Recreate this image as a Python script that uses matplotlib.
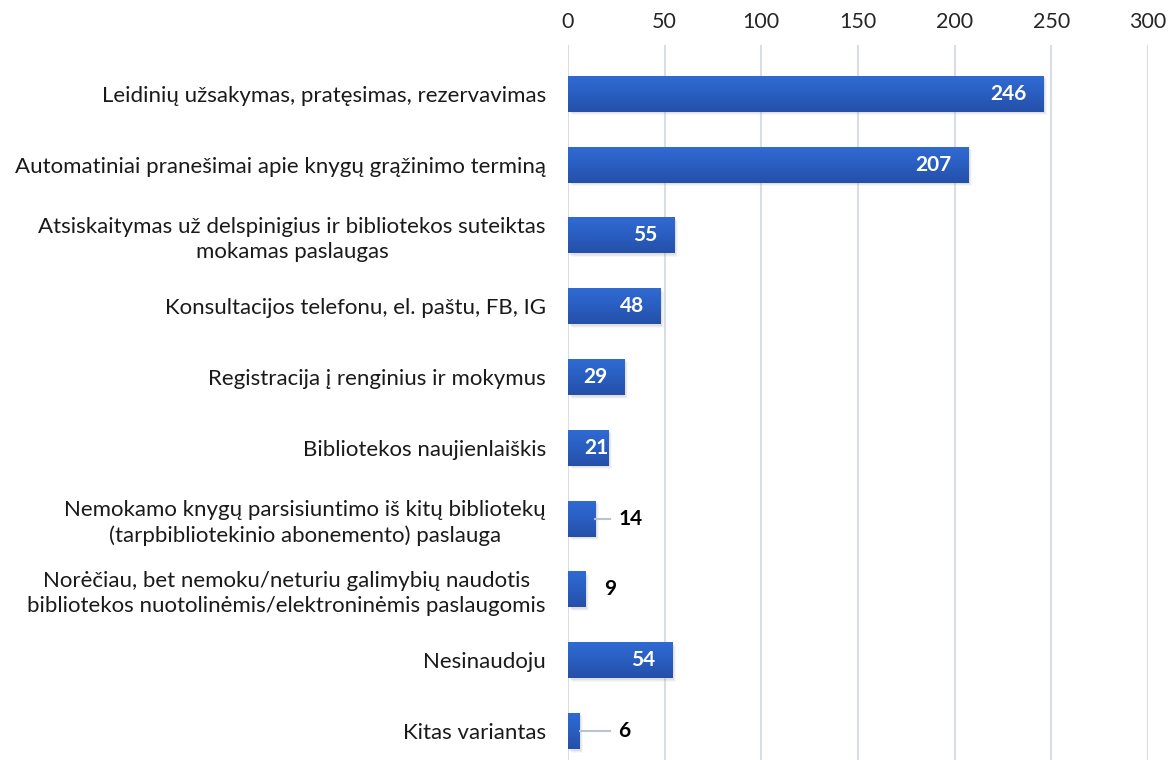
import matplotlib
matplotlib.use("Agg")
import matplotlib.pyplot as plt
import matplotlib.transforms as mtransforms
from matplotlib.colors import LinearSegmentedColormap
import numpy as np

categories = [
    "Leidinių užsakymas, pratęsimas, rezervavimas",
    "Automatiniai pranešimai apie knygų grąžinimo terminą",
    "Atsiskaitymas už delspinigius ir bibliotekos suteiktas\nmokamas paslaugas",
    "Konsultacijos telefonu, el. paštu, FB, IG",
    "Registracija į renginius ir mokymus",
    "Bibliotekos naujienlaiškis",
    "Nemokamo knygų parsisiuntimo iš kitų bibliotekų\n(tarpbibliotekinio abonemento) paslauga",
    "Norėčiau, bet nemoku/neturiu galimybių naudotis\nbibliotekos nuotolinėmis/elektroninėmis paslaugomis",
    "Nesinaudoju",
    "Kitas variantas",
]
values = [246, 207, 55, 48, 29, 21, 14, 9, 54, 6]
xticks = [0, 50, 100, 150, 200, 250, 300]

plt.rcParams['font.family'] = ['Lato', 'DejaVu Sans']

fig = plt.figure(figsize=(11.75, 7.6), dpi=100)
ax = fig.add_axes([568/1175, 0.0, (1148-568)/1175, 1 - 45/760])

y = np.arange(len(values))
bars = ax.barh(y, values, height=0.51, color="#2C5FC4", zorder=3)

# shadow + gradient
grad = np.linspace(0, 1, 64).reshape(-1, 1)
cmap = LinearSegmentedColormap.from_list("g", ["#306BD3", "#2A5EC2", "#2450A8"])
for b in bars:
    x0, yb, w, h = b.get_x(), b.get_y(), b.get_width(), b.get_height()
    for k, a in enumerate([0.10, 0.08, 0.06]):
        off = mtransforms.offset_copy(ax.transData, fig=fig, x=1.5 + k, y=-(1.5 + k), units='dots')
        sh = plt.Rectangle((x0, yb), w, h, facecolor="#7a7a7a", alpha=a, edgecolor='none',
                           transform=off, zorder=2)
        ax.add_patch(sh)
    im = ax.imshow(grad, extent=(x0, x0 + w, yb + h, yb), cmap=cmap, aspect='auto', zorder=4,
                   interpolation='bilinear')
    im.set_clip_path(b)

ax.set_ylim(9.41, -0.69)
ax.set_xlim(0, 300)

ax.xaxis.tick_top()
ax.set_xticks(xticks)
ax.set_xticklabels([str(t) for t in xticks], fontsize=15.5, color="#262626")
ax.tick_params(axis='x', length=0, pad=9)
ax.set_yticks(y)
ax.set_yticklabels(categories, fontsize=16, color="#1a1a1a", linespacing=1.3)
ax.tick_params(axis='y', length=0, pad=16)
for lab in ax.get_yticklabels():
    lab.set_horizontalalignment('right')
    lab.set_multialignment('center')

for s in ax.spines.values():
    s.set_visible(False)
ax.grid(axis='x', color="#D9DEE6", linewidth=1.5, zorder=0)
ax.set_axisbelow(True)

px = 300 / (1148 - 568)  # data units per pixel
for yi, v in zip(y, values):
    if v >= 20:
        if v / px - 17 - 23 < 16:
            ax.text(16 * px, yi, str(v), ha='left', va='center', color='white',
                    fontsize=15, fontweight='bold', zorder=6)
        else:
            ax.text(v - 17 * px, yi, str(v), ha='right', va='center', color='white',
                    fontsize=15, fontweight='bold', zorder=6)
    else:
        if v == 14:
            ax.plot([v, v + 15 * px], [yi, yi], color="#B8C2D0", lw=1.5, zorder=5)
            tx = v + 24 * px
        elif v == 6:
            ax.plot([v, 6 + 30 * px], [yi, yi], color="#B8C2D0", lw=1.5, zorder=5)
            tx = 6 + 39 * px
        else:
            tx = v + 19 * px
        ax.text(tx, yi, str(v), ha='left', va='center', color='black',
                fontsize=15, fontweight='bold', zorder=6)

fig.savefig("out.png", dpi=100)
